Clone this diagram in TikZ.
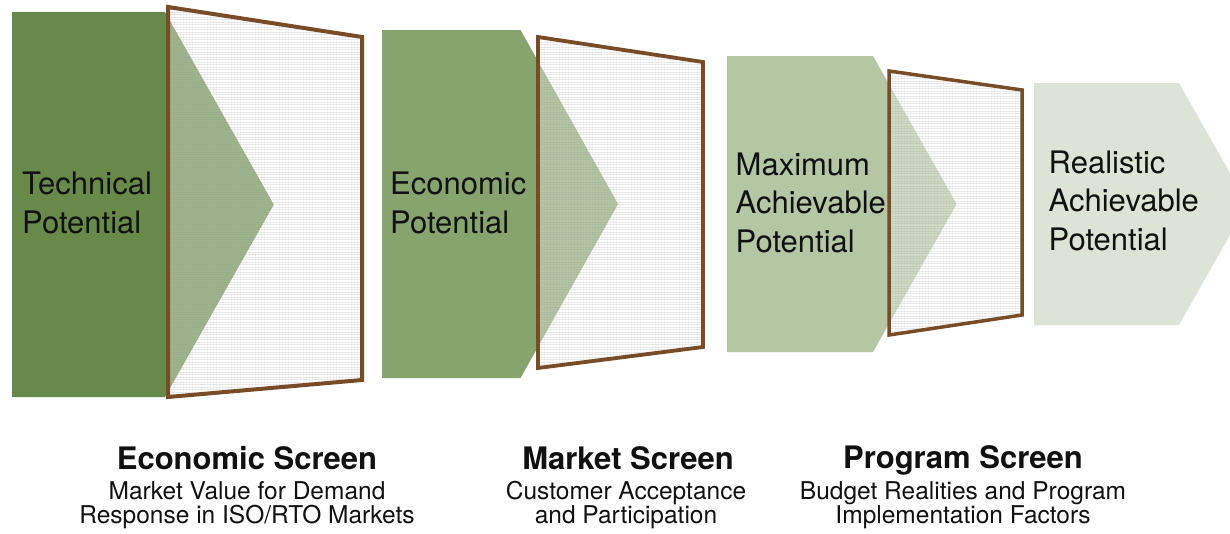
\documentclass[tikz,border=0pt]{standalone}
\usepackage{fontspec}
\setmainfont{TeX Gyre Heros}
\definecolor{techgreen}{RGB}{103,138,74}
\definecolor{econgreen}{RGB}{135,163,110}
\definecolor{maxgreen}{RGB}{181,198,163}
\definecolor{realgreen}{RGB}{221,227,214}
\definecolor{framebrown}{RGB}{121,76,40}
\definecolor{inktext}{RGB}{17,17,17}

\begin{document}
\begin{tikzpicture}[x=1pt,y=-1pt,
  screenglass/.style={fill=white, fill opacity=0.36},
  meshline/.style={draw=black!40, opacity=0.2, line width=0.5pt},
  meshcol/.style={draw=black!40, opacity=0.08, line width=0.4pt},
  screenframe/.style={draw=framebrown, line width=#1, line join=miter},
  stagelabel/.style={anchor=base west, inner sep=0pt, align=left, text=inktext,
    font=\fontsize{31}{38.5}\selectfont},
  screentitle/.style={anchor=base, inner sep=0pt, text=inktext,
    font=\fontsize{31}{36}\selectfont\bfseries},
  screennote/.style={anchor=base, inner sep=0pt, align=center, text=inktext,
    font=\fontsize{24.5}{24.5}\selectfont},
]
\clip (0,0) rectangle (1230,533);
\fill[white] (0,0) rectangle (1230,533);

% the four potential arrows, back to front
\fill[techgreen]  (12,12)   -- (165,12)   -- (273.8,204.5) -- (165,397)   -- (12,397)   -- cycle;
\fill[econgreen]  (382,30)  -- (520.5,30) -- (618,204)     -- (520.5,378) -- (382,378)  -- cycle;
\fill[maxgreen]   (727,56)  -- (873,56)   -- (956.6,204)   -- (873,352)   -- (727,352)  -- cycle;
\fill[realgreen]  (1034,83) -- (1179,83)  -- (1247.4,204)  -- (1179,325)  -- (1034,325) -- cycle;

% screen corners
\coordinate (s1a) at (168,7);    \coordinate (s1b) at (362,37);
\coordinate (s1c) at (362,380);  \coordinate (s1d) at (168,397);
\coordinate (s2a) at (538,37);   \coordinate (s2b) at (703,62);
\coordinate (s2c) at (703,347);  \coordinate (s2d) at (538,368);
\coordinate (s3a) at (889,71);   \coordinate (s3b) at (1022,90);
\coordinate (s3c) at (1022,315); \coordinate (s3d) at (889,335);

% mesh screens
\begin{scope}
  \clip (s1a) -- (s1b) -- (s1c) -- (s1d) -- cycle;
  \fill[screenglass] (s1a) -- (s1b) -- (s1c) -- (s1d) -- cycle;
  \foreach \yy in {7,9.5,...,398} \draw[meshline] (168,\yy) -- (362,\yy);
  \foreach \xx in {168,171,...,362} \draw[meshcol] (\xx,7) -- (\xx,397);
\end{scope}
\draw[screenframe=4pt] (s1a) -- (s1b) -- (s1c) -- (s1d) -- cycle;

\begin{scope}
  \clip (s2a) -- (s2b) -- (s2c) -- (s2d) -- cycle;
  \fill[screenglass] (s2a) -- (s2b) -- (s2c) -- (s2d) -- cycle;
  \foreach \yy in {37,39.5,...,368} \draw[meshline] (538,\yy) -- (703,\yy);
  \foreach \xx in {538,541,...,703} \draw[meshcol] (\xx,37) -- (\xx,368);
\end{scope}
\draw[screenframe=3.8pt] (s2a) -- (s2b) -- (s2c) -- (s2d) -- cycle;

\begin{scope}
  \clip (s3a) -- (s3b) -- (s3c) -- (s3d) -- cycle;
  \fill[screenglass] (s3a) -- (s3b) -- (s3c) -- (s3d) -- cycle;
  \foreach \yy in {71,73.5,...,335} \draw[meshline] (889,\yy) -- (1022,\yy);
  \foreach \xx in {889,892,...,1022} \draw[meshcol] (\xx,71) -- (\xx,335);
\end{scope}
\draw[screenframe=3.5pt] (s3a) -- (s3b) -- (s3c) -- (s3d) -- cycle;

% potential labels (anchored on the baseline of the last line)
\node[stagelabel] (technical) at (22,233)     {Technical\\Potential};
\node[stagelabel] (economic)  at (390,233)    {Economic\\Potential};
\node[stagelabel] (maximum)   at (735.5,252)  {Maximum\\Achievable\\Potential};
\node[stagelabel] (realistic) at (1048.5,250) {Realistic\\Achievable\\Potential};

% screen captions
\node[screentitle] (econtitle) at (247,469) {Economic Screen};
\node[screennote]  (econnote)  at (247,523.5) {Market Value for Demand\\Response in ISO/RTO Markets};
\node[screentitle] (markettitle) at (628,469) {Market Screen};
\node[screennote]  (marketnote)  at (626,523.5) {Customer Acceptance\\and Participation};
\node[screentitle] (progtitle) at (963,468) {Program Screen};
\node[screennote]  (prognote)  at (963,523.5) {Budget Realities and Program\\Implementation Factors};
\end{tikzpicture}
\end{document}
